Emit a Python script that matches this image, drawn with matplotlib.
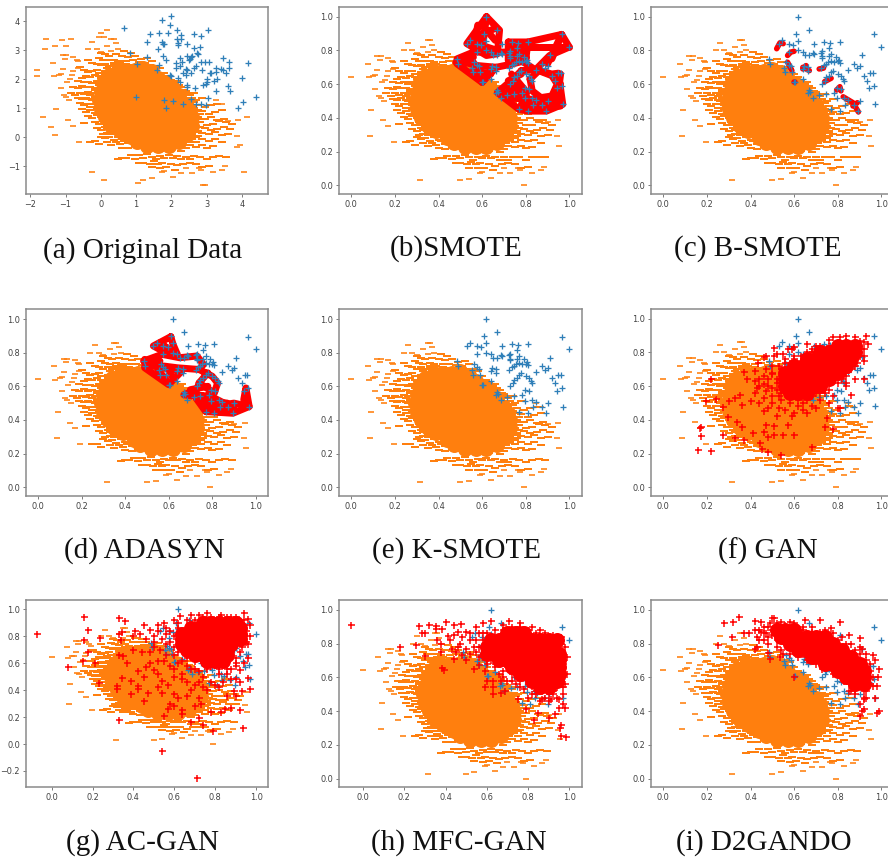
import matplotlib
matplotlib.use("Agg")
import matplotlib.pyplot as plt
import numpy as np

W, H = 888, 859
ORANGE = "#ff7f0e"; BLUE = "#2f7fb8"; RED = "#ff0000"

blue_a = [(0.65,3.77),(0.83,2.92),(1.0,1.38),(1.03,2.52),(1.3,3.3),(1.3,2.75),(1.4,3.55),(1.58,2.3),(1.62,3.05),(1.65,3.58),(1.65,2.5),(1.73,4.05),(1.72,3.3),(1.77,3.2),(1.8,3.22),(1.75,2.8),(1.78,1.28),(1.86,2.65),(1.9,3.6),(1.85,1.0),(1.95,3.88),(2.0,4.18),(1.95,2.15),(2.0,2.12),(2.05,1.25),(2.12,2.55),(2.12,2.4),(2.15,3.7),(2.15,3.38),(2.2,3.25),(2.2,3.18),(2.2,2.05),(2.25,2.72),(2.28,3.52),(2.28,3.38),(2.25,2.45),(2.25,1.9),(2.3,2.6),(2.32,2.2),(2.32,1.15),(2.4,2.35),(2.42,2.15),(2.43,2.8),(2.45,3.2),(2.45,2.3),(2.45,1.8),(2.45,1.72),(2.5,2.65),(2.52,2.7),(2.55,2.75),(2.58,2.8),(2.55,2.2),(2.55,1.3),(2.63,3.07),(2.63,2.4),(2.65,3.55),(2.68,1.7),(2.7,2.45),(2.72,2.9),(2.7,1.15),(2.76,2.88),(2.8,3.12),(2.83,3.48),(2.85,1.15),(2.85,2.6),(2.88,2.32),(2.9,1.8),(2.95,2.6),(2.97,1.1),(2.97,1.85),(3.0,1.9),(3.02,2.0),(3.05,3.7),(3.07,2.6),(3.05,1.35),(3.08,2.22),(3.13,2.2),(3.22,1.95),(3.25,1.58),(3.25,2.38),(3.25,2.25),(3.3,2.02),(3.4,2.35),(3.45,2.72),(3.47,2.3),(3.55,2.2),(3.6,1.75),(3.63,2.58),(3.63,2.4),(3.67,1.58),(3.88,1.0),(4.0,2.05),(4.03,1.2),(4.17,2.55),(4.4,1.38)]

blue_norm = [(0.62,1.0),(0.67,0.92),(0.61,0.90),(0.965,0.895),(1.0,0.82),(0.545,0.86),(0.53,0.84),(0.575,0.84),(0.595,0.835),(0.62,0.855),(0.69,0.84),(0.735,0.85),(0.765,0.845),(0.81,0.85),(0.76,0.815),(0.575,0.79),(0.62,0.80),(0.64,0.79),(0.65,0.77),(0.67,0.77),(0.69,0.78),(0.685,0.785),(0.725,0.785),(0.73,0.795),(0.73,0.765),(0.73,0.755),(0.76,0.765),(0.77,0.78),(0.79,0.76),(0.77,0.74),(0.785,0.73),(0.80,0.735),(0.805,0.745),(0.81,0.725),(0.91,0.77),(0.875,0.72),(0.90,0.71),(0.89,0.695),(0.845,0.685),(0.755,0.73),(0.745,0.72),(0.735,0.715),(0.725,0.695),(0.485,0.75),(0.49,0.72),(0.555,0.695),(0.565,0.73),(0.575,0.715),(0.585,0.705),(0.56,0.67),(0.59,0.67),(0.645,0.71),(0.64,0.69),(0.665,0.70),(0.665,0.68),(0.64,0.63),(0.60,0.61),(0.605,0.61),(0.78,0.68),(0.77,0.67),(0.76,0.65),(0.745,0.64),(0.74,0.62),(0.73,0.60),(0.80,0.66),(0.815,0.65),(0.825,0.63),(0.83,0.62),(0.92,0.65),(0.935,0.62),(0.95,0.665),(0.96,0.665),(0.945,0.575),(0.965,0.59),(0.97,0.48),(0.67,0.565),(0.675,0.555),(0.665,0.55),(0.685,0.52),(0.715,0.535),(0.745,0.54),(0.785,0.55),(0.795,0.58),(0.815,0.57),(0.795,0.515),(0.83,0.52),(0.845,0.505),(0.835,0.475),(0.875,0.475),(0.90,0.50),(0.895,0.44),(0.77,0.45),(0.81,0.44)]

orange_sparse = [(0.0,0.645),(0.075,0.72),(0.08,0.64),(0.10,0.65),(0.11,0.655),(0.09,0.445),(0.085,0.295),(0.12,0.765),(0.135,0.765),(0.13,0.745),(0.17,0.755),(0.185,0.74),(0.19,0.73),(0.19,0.69),(0.17,0.675),(0.165,0.65),(0.12,0.685),(0.11,0.57),(0.14,0.61),(0.155,0.625),(0.135,0.52),(0.125,0.53),(0.15,0.50),(0.145,0.385),(0.17,0.35),(0.195,0.255),(0.315,0.03),(0.50,0.03),(0.54,0.04),(0.64,0.045),(0.79,0.0),(0.60,0.08),(0.59,0.075),(0.68,0.07),(0.73,0.07),(0.83,0.075),(0.87,0.09),(0.885,0.11),(0.775,0.09),(0.765,0.10),(0.70,0.10),(0.26,0.845),(0.24,0.80),(0.28,0.80),(0.35,0.86),(0.36,0.86),(0.33,0.82),(0.37,0.835),(0.30,0.785),(0.35,0.79),(0.38,0.80),(0.405,0.79),(0.95,0.385),(0.945,0.29),(0.955,0.235),(0.895,0.37),(0.90,0.375),(0.845,0.50),(0.87,0.475)]

orange_band = [(.41,.79),(.44,.78),(.30,.78),(.32,.77),(.34,.76),(.37,.77),(.40,.76),(.43,.755),(.46,.76),(.49,.745),(.52,.75),(.29,.75),(.31,.74),(.33,.735),(.36,.74),(.38,.73),(.42,.73),(.45,.735),(.48,.725),(.51,.72),(.54,.73),(.24,.74),(.26,.72),(.28,.715),(.30,.705),(.32,.715),(.34,.70),(.36,.71),(.50,.70),(.53,.705),(.56,.70),(.58,.69),
(.20,.695),(.22,.68),(.24,.665),(.26,.675),(.28,.68),(.30,.66),(.32,.67),(.34,.665),(.23,.645),(.25,.635),(.27,.65),(.29,.64),(.31,.635),(.21,.63),(.19,.615),(.22,.605),(.24,.61),(.26,.60),(.28,.615),(.54,.66),(.56,.665),(.58,.65),(.60,.66),(.62,.64),(.55,.635),(.59,.62),(.62,.61),(.64,.60),(.66,.615),
(.17,.58),(.19,.57),(.21,.585),(.23,.575),(.25,.58),(.27,.57),(.29,.59),(.16,.545),(.18,.53),(.20,.545),(.22,.535),(.24,.55),(.26,.54),(.28,.545),(.19,.51),(.21,.505),(.23,.515),(.25,.505),(.27,.50),(.29,.51),(.66,.575),(.68,.58),(.64,.565),(.70,.555),(.68,.535),(.72,.53),(.74,.54),(.70,.51),(.72,.495),(.75,.50),(.78,.51),
(.20,.485),(.22,.47),(.24,.48),(.26,.46),(.28,.475),(.30,.455),(.21,.445),(.23,.43),(.25,.44),(.27,.425),(.29,.435),(.24,.405),(.26,.395),(.28,.41),(.30,.40),(.32,.39),(.72,.47),(.74,.455),(.76,.47),(.79,.46),(.82,.47),(.85,.48),(.73,.43),(.75,.42),(.78,.435),(.81,.42),(.84,.43),(.87,.44),(.76,.40),(.79,.39),(.82,.40),(.85,.385),(.88,.39),
(.22,.365),(.27,.37),(.29,.36),(.31,.375),(.33,.355),(.28,.335),(.30,.325),(.32,.34),(.34,.33),(.36,.345),(.31,.30),(.33,.305),(.35,.31),(.37,.30),(.39,.32),(.73,.365),(.75,.35),(.77,.37),(.80,.355),(.83,.36),(.86,.375),(.89,.37),(.92,.36),(.74,.33),(.76,.32),(.79,.335),(.82,.325),(.85,.33),(.88,.34),(.91,.33),(.73,.30),(.76,.29),(.78,.305),(.81,.30),(.84,.31),(.87,.295),(.90,.30),
(.25,.255),(.27,.26),(.29,.24),(.30,.285),(.32,.275),(.34,.28),(.36,.265),(.38,.285),(.40,.27),(.42,.285),(.33,.25),(.35,.235),(.37,.25),(.39,.24),(.41,.26),(.43,.245),(.45,.265),(.47,.25),(.40,.22),(.43,.215),(.46,.23),(.48,.215),(.70,.265),(.73,.27),(.75,.255),(.78,.27),(.81,.26),(.84,.27),(.87,.25),(.72,.235),(.75,.225),(.78,.235),(.80,.22),(.83,.23),(.70,.215),(.50,.22),(.52,.205),(.55,.215),(.58,.20),(.60,.215),(.63,.205),(.66,.215),(.68,.20),
(.38,.155),(.40,.16),(.42,.16),(.44,.175),(.46,.155),(.48,.175),(.50,.16),(.52,.18),(.54,.165),(.56,.15),(.58,.17),(.60,.16),(.62,.175),(.64,.16),(.66,.17),(.68,.15),(.70,.165),(.72,.15),(.74,.17),(.77,.165),(.80,.15),(.83,.165),(.86,.17),(.89,.165),(.48,.13),(.50,.13),(.53,.125),(.55,.14),(.57,.125),(.59,.13),(.61,.105),(.63,.125),(.66,.115),(.69,.125),(.72,.13),(.75,.125),(.78,.105),(.81,.11),(.54,.105),(.58,.10),(.65,.09),
(.36,.72),(.39,.72),(.42,.715),(.45,.71),(.48,.70),(.51,.685),(.54,.68),(.33,.69),(.35,.685),(.38,.70),(.57,.66),(.59,.64),(.61,.63),(.63,.62),(.65,.60),(.67,.59),(.69,.56),(.71,.54),(.73,.51),(.74,.49),(.76,.44),(.77,.42),(.77,.39),(.77,.34),(.76,.31),(.75,.28),(.72,.27),(.71,.25),(.68,.24),(.65,.22),(.62,.21),(.58,.21),(.55,.21),(.52,.22),(.49,.235),(.46,.245),(.44,.26),(.41,.29),(.38,.30),(.36,.32),(.34,.36),(.31,.38),(.30,.42),(.28,.45),(.27,.48),(.27,.52),(.27,.56),(.28,.60),(.30,.63),(.32,.65),(.26,.50),(.25,.53),(.25,.46),(.29,.66),(.33,.67),(.35,.30),(.33,.33)]

orange_core = [(.42,.68),(.46,.68),(.38,.68),(.34,.65),(.50,.69),(.54,.67),
(.36,.63),(.40,.63),(.44,.63),(.48,.63),(.52,.63),(.57,.63),(.31,.60),
(.34,.58),(.38,.58),(.42,.58),(.46,.58),(.50,.58),(.54,.58),(.58,.58),(.61,.60),
(.30,.55),(.33,.53),(.37,.53),(.41,.53),(.45,.53),(.49,.53),(.53,.53),(.57,.53),(.61,.53),(.64,.56),(.67,.53),
(.29,.50),(.34,.48),(.38,.48),(.42,.48),(.46,.48),(.50,.48),(.54,.48),(.58,.48),(.62,.48),(.66,.48),(.70,.48),
(.30,.45),(.35,.43),(.39,.43),(.43,.43),(.47,.43),(.51,.43),(.55,.43),(.59,.43),(.63,.43),(.68,.43),(.72,.44),
(.32,.40),(.38,.38),(.42,.38),(.46,.38),(.50,.38),(.54,.38),(.58,.38),(.62,.38),(.66,.38),(.70,.38),(.73,.40),
(.35,.35),(.39,.32),(.43,.33),(.47,.33),(.51,.33),(.55,.33),(.59,.33),(.63,.33),(.69,.33),(.73,.35),
(.44,.28),(.50,.28),(.54,.28),(.58,.28),(.62,.28),(.66,.28),(.71,.30),
(.47,.25),(.52,.23),(.57,.23),(.62,.23),(.67,.25)]

orange_extra_a = [(0.16,3.7),(0.0,3.6),(-0.05,3.45),(0.1,3.45),(-1.55,3.4),(-1.58,3.05),(-1.3,3.15),(-1.0,3.15),(-0.85,3.4),(-1.1,3.35),(4.15,0.7),(4.05,-1.2),(3.85,-0.35),(-1.65,0.7),(-1.4,0.35),(-0.25,-1.2),(2.9,-1.65),(1.05,-1.6),(-1.8,2.33)]

smote_paths = [[(.62,1.0),(.53,.84),(.62,.77),(.67,.78),(.68,.92),(.62,1.0)],[(.62,1.0),(.60,.80),(.56,.84),(.60,.90),(.66,.93)],[(.58,.95),(.56,.80)],[(.66,.86),(.60,.95)],[(.55,.85),(.67,.80)],[(.72,.85),(.81,.85),(.80,.74),(.72,.74),(.72,.85)],[(.74,.82),(.78,.82),(.78,.76),(.74,.76)],[(.72,.80),(.80,.80)],[(.72,.76),(.80,.76)],[(.485,.75),(.56,.79),(.72,.79)],[(.48,.73),(.56,.76)],[(.485,.72),(.60,.61),(.665,.70),(.58,.71),(.485,.74)],[(.56,.68),(.64,.66)],[(.56,.73),(.60,.61)],[(.665,.70),(.74,.72),(.80,.74)],[(.81,.85),(.965,.895),(1.0,.82),(.91,.77),(.845,.685),(.79,.73)],[(.81,.82),(1.0,.82)],[(.965,.895),(.90,.72)],[(.965,.895),(.92,.75)],[(.78,.68),(.845,.685),(.92,.66),(.95,.665),(.97,.48),(.895,.44),(.81,.44),(.77,.45),(.67,.55),(.75,.64),(.78,.68)],[(.82,.63),(.83,.56),(.87,.52),(.92,.53),(.945,.60),(.92,.65),(.86,.68),(.82,.63)],[(.72,.60),(.80,.50),(.90,.47)],[(.70,.55),(.80,.55)],[(.75,.52),(.85,.49)],[(.78,.48),(.88,.46)],[(.96,.60),(.93,.50)],[(.72,.62),(.78,.66)],[(.735,.66),(.80,.56)],[(.70,.52),(.95,.50)],[(.78,.46),(.96,.47)],[(.75,.60),(.82,.50)],[(.72,.58),(.78,.56)],[(.945,.50),(.96,.66)]]

bsmote_paths = [[(.52,.81),(.535,.845),(.55,.84)],[(.57,.77),(.585,.79),(.60,.795)],[(.57,.73),(.59,.68)],[(.64,.70),(.67,.68)],[(.64,.69),(.655,.71)],[(.60,.61),(.605,.61)],[(.715,.69),(.735,.695)],[(.74,.615),(.77,.635)],[(.795,.565),(.81,.585),(.815,.56)],[(.825,.525),(.87,.49),(.895,.435)],[(.87,.47),(.89,.49)]]

adasyn_paths = [[(.61,.895),(.53,.84),(.60,.79),(.64,.79),(.62,.85),(.61,.895)],[(.58,.84),(.62,.80)],[(.56,.86),(.60,.82)],[(.485,.75),(.57,.79),(.65,.77),(.73,.78),(.76,.73),(.74,.70),(.64,.71),(.58,.72),(.49,.72)],[(.49,.74),(.56,.75)],[(.49,.76),(.56,.73)],[(.49,.71),(.60,.61),(.66,.69),(.58,.71)],[(.55,.70),(.60,.62)],[(.60,.70),(.62,.65)],[(.74,.70),(.80,.66),(.825,.62),(.81,.56),(.74,.62),(.78,.68)],[(.74,.62),(.73,.58),(.67,.55),(.72,.54),(.77,.45),(.895,.44),(.97,.48),(.955,.59),(.945,.52)],[(.78,.55),(.90,.47)],[(.74,.52),(.87,.50)],[(.80,.48),(.90,.50),(.97,.48)],[(.70,.58),(.78,.60)],[(.78,.46),(.90,.45)],[(.76,.50),(.84,.50)],[(.70,.55),(.76,.55)]]

gan_plus = [(.16,.22),(.22,.215),(.175,.305),(.175,.355),(.17,.35),(.195,.51),(.24,.525),(.22,.645),(.275,.31),(.275,.475),(.295,.415),(.30,.51),(.33,.295),(.34,.39),(.33,.53),(.35,.55),(.37,.685),(.385,.64),(.36,.36),(.36,.49),(.37,.28),(.41,.32),(.40,.51),(.42,.63),(.43,.59),(.445,.265),(.455,.225),(.48,.21),(.54,.19),(.46,.33),(.47,.37),(.46,.45),(.48,.30),(.51,.31),(.51,.365),(.52,.42),(.50,.50),(.53,.47),(.55,.31),(.57,.37),(.60,.31),(.59,.42),(.68,.24),(.74,.36),(.75,.41),(.78,.345),(.80,.47),(.81,.47),(.86,.55),(.84,.60),(.42,.69),(.435,.735),(.46,.775),(.47,.78),(.52,.79),(.51,.78),(.55,.79),(.57,.82),(.51,.825),(.59,.82),(.60,.835),(.66,.85),(.70,.84),(.76,.875),(.78,.89),(.81,.89),(.84,.90),(.88,.89),(.93,.90),(.92,.86),(.94,.85),(.92,.78),(.92,.75),(.92,.64),(.88,.645),(.84,.62),(.47,.70),(.44,.64),(.46,.61),(.47,.57),(.50,.67),(.52,.62),(.50,.59),(.53,.54),(.56,.56),(.58,.50),(.62,.48),(.66,.44),(.66,.52),(.70,.47),(.72,.52),(.60,.66),(.56,.70),(.53,.72),(.56,.74),(.60,.76),(.63,.78),(.68,.80),(.72,.82),(.78,.84),(.84,.87),(.90,.87),(.90,.82),(.89,.74),(.86,.70),(.84,.66),(.80,.62),(.76,.58),(.72,.56),(.78,.54),(.73,.60),
(.72,.84),(.76,.84),(.66,.80),(.68,.82),(.92,.82),(.56,.76),(.60,.78),(.90,.78),(.50,.72),(.54,.70),(.58,.74),(.88,.72),(.50,.68),(.54,.66),(.48,.64),(.52,.64),(.48,.60),(.52,.58),(.54,.62),(.50,.54),(.54,.56),(.70,.56),(.54,.52),(.58,.54),(.62,.52),(.64,.50),(.68,.54),(.74,.56),(.82,.64),(.84,.68),(.88,.76),(.46,.66),(.44,.60),(.42,.56),(.46,.53),(.44,.50),(.48,.47),(.56,.46),(.60,.44),(.64,.46),(.68,.48),(.76,.50)]
gan_core = [(.80,.84),(.84,.84),(.88,.84),(.72,.80),(.76,.80),(.80,.80),(.84,.80),(.88,.80),(.66,.76),(.70,.76),(.74,.76),(.78,.76),(.82,.76),(.86,.76),(.60,.72),(.64,.72),(.68,.72),(.72,.72),(.76,.72),(.80,.72),(.84,.72),(.56,.68),(.60,.68),(.64,.68),(.68,.68),(.72,.68),(.76,.68),(.80,.68),(.56,.64),(.60,.64),(.64,.64),(.68,.64),(.72,.64),(.76,.64),(.56,.60),(.60,.60),(.64,.60),(.68,.60),(.72,.60),(.58,.56),(.62,.56),(.66,.56)]

acgan_plus = [(-.07,.82),(.16,.94),(.18,.85),(.16,.77),(.235,.79),(.08,.57),(.155,.615),(.18,.68),(.21,.60),(.23,.45),(.33,.935),(.36,.915),(.33,.82),(.345,.83),(.34,.77),(.33,.66),(.35,.65),(.37,.60),(.345,.49),(.32,.43),(.32,.41),(.39,.37),(.39,.47),(.42,.54),(.42,.43),(.42,.41),(.45,.32),(.45,.50),(.47,.38),(.33,.18),(.54,-.05),(.71,-.25),(.79,.10),(.935,.12),(.68,.16),(.74,.14),(.72,.19),(.55,.21),(.64,.22),(.64,.25),(.58,.30),(.60,.28),(.57,.26),(.70,.28),(.73,.30),(.78,.24),(.83,.24),(.85,.26),(.88,.27),(.92,.25),(.86,.36),(.90,.36),(.93,.39),(.97,.41),(.96,.49),(.89,.39),(.82,.42),(.76,.40),(.72,.34),(.66,.36),(.62,.34),(.60,.37),(.57,.44),(.54,.38),(.54,.47),(.52,.42),(.52,.52),(.50,.55),(.48,.60),(.46,.57),(.44,.68),(.40,.70),(.43,.82),(.45,.88),(.46,.78),(.40,.80),(.41,.84),(.52,.88),(.55,.90),(.60,.92),(.63,.95),(.68,.96),(.72,.96),(.76,.97),(.83,.96),(.88,.94),(.94,.97),(.96,.93),(.97,.88),(.97,.80),(.96,.74),(.96,.64),(.94,.60),(.92,.55),(.90,.48),(.50,.76),(.53,.70),(.50,.80),(.56,.82),(.55,.62),(.58,.58),(.60,.66),(.60,.50),(.64,.52),(.66,.46),(.70,.44),(.74,.50),(.78,.46),(.82,.52),(.62,.86),(.64,.62),(.68,.56),(.72,.54),(.76,.56),(.86,.56),(.90,.58),
(.62,.90),(.66,.92),(.70,.92),(.74,.94),(.78,.94),(.82,.94),(.86,.94),(.90,.94),(.94,.92),(.94,.88),(.95,.84),(.94,.80),(.95,.76),(.93,.72),(.92,.68),(.90,.64),(.90,.60),(.88,.56),(.86,.52),(.82,.56),(.78,.58),(.74,.60),(.70,.62),(.66,.64),(.62,.68),(.60,.72),(.58,.76),(.60,.80),(.58,.84),(.56,.86),(.52,.84),(.48,.85),(.50,.72),(.48,.68),(.52,.62),(.56,.66),(.56,.74),(.54,.78),(.62,.60),(.66,.58),(.60,.56),(.70,.56),(.64,.48),(.72,.46),(.80,.44),(.84,.46),(.88,.48),(.92,.46),(.68,.40),(.74,.42)]
acgan_core = [(.74,.90),(.78,.90),(.82,.90),(.86,.90),(.90,.90),(.68,.86),(.72,.86),(.76,.86),(.80,.86),(.84,.86),(.88,.86),(.92,.86),(.64,.82),(.68,.82),(.72,.82),(.76,.82),(.80,.82),(.84,.82),(.88,.82),(.92,.82),(.64,.78),(.68,.78),(.72,.78),(.76,.78),(.80,.78),(.84,.78),(.88,.78),(.92,.78),(.64,.74),(.68,.74),(.72,.74),(.76,.74),(.80,.74),(.84,.74),(.88,.74),(.66,.70),(.70,.70),(.74,.70),(.78,.70),(.82,.70),(.86,.70),(.70,.66),(.74,.66),(.78,.66),(.82,.66),(.86,.66),(.76,.62),(.80,.62),(.84,.62)]

mfcgan_plus = [(-.06,.91),(.18,.78),(.27,.905),(.285,.865),(.30,.865),(.255,.79),(.30,.725),(.32,.91),(.355,.905),(.355,.885),(.40,.93),(.385,.885),(.44,.91),(.475,.915),(.36,.82),(.38,.80),(.38,.75),(.385,.655),(.395,.645),(.41,.845),(.42,.82),(.44,.85),(.46,.87),(.43,.77),(.45,.75),(.44,.71),(.48,.73),(.50,.70),(.54,.65),(.56,.67),(.59,.64),(.60,.58),(.59,.54),(.63,.58),(.63,.54),(.63,.50),(.67,.58),(.67,.51),(.69,.52),(.75,.47),(.79,.41),(.83,.35),(.85,.39),(.87,.47),(.90,.36),(.91,.47),(.95,.42),(.93,.38),(.955,.30),(.96,.32),(.96,.25),(.985,.245),(.98,.42),(.97,.44),(.95,.47),(.97,.50),(.98,.56),(.99,.62),(.99,.72),(.98,.78),(.96,.84),(.92,.85),(.62,.935),(.71,.935),(.76,.92),(.82,.90),(.68,.91),(.58,.92),(.55,.90),(.50,.87),(.52,.82),(.47,.80),(.50,.77),(.55,.75),(.58,.72),(.60,.70),(.64,.68),(.68,.60),(.72,.58),(.75,.62),(.78,.53),(.82,.55),(.84,.50),(.87,.52),(.90,.50),(.92,.52),(.96,.56),(.55,.82),(.58,.86),(.86,.88),(.88,.86),(.70,.66),(.74,.56),(.80,.48),
(.60,.86),(.64,.88),(.68,.88),(.72,.90),(.76,.90),(.80,.88),(.84,.86),(.88,.85),(.92,.84),(.96,.80),(.97,.74),(.97,.68),(.97,.62),(.96,.58),(.94,.54),(.92,.50),(.88,.48),(.84,.52),(.80,.56),(.76,.58),(.72,.62),(.68,.64),(.64,.66),(.60,.68),(.56,.72),(.54,.78),(.52,.86),(.56,.86),(.48,.84),(.46,.78),(.52,.74),(.56,.78),(.58,.82),(.62,.70),(.66,.62),(.70,.58),(.76,.54),(.82,.50),(.86,.46),(.90,.46),(.94,.48),(.97,.54)]
mfcgan_core = [(.70,.86),(.74,.86),(.78,.86),(.62,.82),(.66,.82),(.70,.82),(.74,.82),(.78,.82),(.82,.82),(.86,.82),(.90,.82),(.94,.82),(.60,.78),(.64,.78),(.68,.78),(.72,.78),(.76,.78),(.80,.78),(.84,.78),(.88,.78),(.92,.78),(.60,.74),(.64,.74),(.68,.74),(.72,.74),(.76,.74),(.80,.74),(.84,.74),(.88,.74),(.92,.74),(.95,.74),(.66,.70),(.70,.70),(.74,.70),(.78,.70),(.82,.70),(.86,.70),(.90,.70),(.95,.70),(.72,.66),(.76,.66),(.80,.66),(.84,.66),(.88,.66),(.92,.66),(.95,.66),(.76,.62),(.80,.62),(.84,.62),(.88,.62),(.92,.62),(.95,.62),(.82,.58),(.86,.58),(.90,.58),(.94,.58),(.86,.54),(.90,.54)]

d2gando_plus = [(.28,.92),(.32,.925),(.345,.955),(.315,.84),(.25,.79),(.37,.86),(.395,.865),(.42,.935),(.45,.93),(.46,.90),(.42,.88),(.43,.84),(.45,.87),(.42,.77),(.43,.78),(.48,.745),(.49,.71),(.535,.72),(.60,.60),(.50,.95),(.51,.95),(.49,.92),(.54,.93),(.58,.925),(.65,.94),(.72,.94),(.77,.89),(.81,.93),(.85,.85),(.90,.83),(.91,.77),(.96,.73),(.97,.70),(.99,.65),(.985,.60),(.98,.55),(.97,.475),(.93,.475),(.92,.47),(.90,.44),(.91,.40),(.90,.37),(.92,.41),(.98,.39),(.99,.40),(.95,.60),(.88,.50),(.85,.52),(.83,.58),(.78,.62),(.73,.65),(.70,.68),(.66,.70),(.62,.74),(.58,.78),(.55,.74),(.52,.78),(.48,.80),(.46,.82),(.44,.82),(.47,.86),(.50,.88),(.55,.90),(.60,.89),(.64,.90),(.68,.90),(.74,.88),(.78,.86),(.82,.84),(.86,.80),(.90,.78),(.93,.74),(.95,.68),(.96,.55),(.93,.52),(.90,.55),(.87,.58),(.82,.62),
(.48,.90),(.52,.92),(.56,.91),(.60,.92),(.64,.88),(.68,.87),(.72,.87),(.76,.84),(.80,.82),(.84,.80),(.88,.76),(.90,.74),(.93,.70),(.95,.64),(.96,.60),(.95,.56),(.92,.52),(.88,.53),(.85,.56),(.82,.60),(.78,.64),(.74,.66),(.70,.70),(.66,.72),(.62,.72),(.60,.76),(.56,.80),(.52,.82),(.50,.85),(.46,.86),(.44,.88),(.48,.84),(.54,.76),(.58,.74),(.64,.74),(.90,.62),(.86,.62),(.92,.58),(.86,.52),(.92,.48)]
d2gando_core = [(.52,.88),(.56,.88),(.60,.88),(.54,.84),(.58,.84),(.62,.84),(.66,.84),(.70,.84),(.74,.84),(.58,.80),(.62,.80),(.66,.80),(.70,.80),(.74,.80),(.78,.80),(.62,.76),(.66,.76),(.70,.76),(.74,.76),(.78,.76),(.82,.76),(.68,.72),(.72,.72),(.76,.72),(.80,.72),(.84,.72),(.86,.72),(.74,.68),(.78,.68),(.82,.68),(.86,.68),(.90,.68),(.80,.64),(.84,.64),(.88,.64),(.92,.64),(.84,.60),(.88,.60),(.92,.60),(.88,.56),(.92,.56)]

captions = ["(a) Original Data","(b)SMOTE","(c) B-SMOTE","(d) ADASYN","(e) K-SMOTE","(f) GAN","(g) AC-GAN","(h) MFC-GAN","(i) D2GANDO"]
norm_ticks = [0.0,0.2,0.4,0.6,0.8,1.0]

panels = {
 "a": dict(box=(26,268,7,194), xa=(-2,30.3,4,242), ya=(4,21.3,-1,166), xt=[-2,-1,0,1,2,3,4], yt=[-1,0,1,2,3,4], cap=(143,251)),
 "b": dict(box=(339,582,7,194), xa=(0,351.3,1,569.3), ya=(1,16.7,0,185.3), xt=norm_ticks, yt=norm_ticks, cap=(456,249)),
 "c": dict(box=(651,894,7,194), xa=(0,663.3,1,881.3), ya=(1,16.7,0,185.3), xt=norm_ticks, yt=norm_ticks, cap=(758,249)),
 "d": dict(box=(26,268,309,496), xa=(0,38,1,255.7), ya=(1,319,0,487.3), xt=norm_ticks, yt=norm_ticks, cap=(144,551)),
 "e": dict(box=(339,582,309,496), xa=(0,351.3,1,569.3), ya=(1,319,0,487.3), xt=norm_ticks, yt=norm_ticks, cap=(456,551)),
 "f": dict(box=(651,894,309,496), xa=(0,663.3,1,881.3), ya=(1,318.7,0,487.3), xt=norm_ticks, yt=norm_ticks, cap=(768,551)),
 "g": dict(box=(26,268,600,787), xa=(0,51.7,1,256), ya=(1,609.3,-0.2,771), xt=norm_ticks, yt=[-0.2]+norm_ticks, cap=(143,843)),
 "h": dict(box=(339,582,600,787), xa=(0,363,1,569.3), ya=(1,609.7,0,778.7), xt=norm_ticks, yt=norm_ticks, cap=(459,843)),
 "i": dict(box=(651,894,600,787), xa=(0,663.3,1,881.3), ya=(1,609.7,0,778.7), xt=norm_ticks, yt=norm_ticks, cap=(764,843)),
}

dpi = 100
fig = plt.figure(figsize=(W/dpi, H/dpi), dpi=dpi, facecolor="white")
PT = 72/dpi

def xy(pts, sx=1.0, ox=0.0, sy=1.0, oy=0.0):
    a = np.array(pts, float)
    return a[:,0]*sx+ox, a[:,1]*sy+oy

def scatter(ax, pts, marker, color, z, size=6.0, lw=1.3, **tf):
    x, y = xy(pts, **tf)
    ax.scatter(x, y, marker=marker, s=(size*PT)**2, linewidths=lw*PT, color=color, zorder=z)

def discs(ax, pts, color, d, z, **tf):
    x, y = xy(pts, **tf)
    ax.scatter(x, y, marker="o", s=(d*PT)**2, linewidths=0, color=color, zorder=z)

def setup(key, cap):
    p = panels[key]
    L,R,T,B = p["box"]
    ax = fig.add_axes([L/W, 1-B/H, (R-L)/W, (B-T)/H])
    v0,p0,v1,p1 = p["xa"]
    ax.set_xlim(v0+(L-p0)*(v1-v0)/(p1-p0), v0+(R-p0)*(v1-v0)/(p1-p0))
    v0,p0,v1,p1 = p["ya"]
    ax.set_ylim(v0+(B-p0)*(v1-v0)/(p1-p0), v0+(T-p0)*(v1-v0)/(p1-p0))
    ax.set_xticks(p["xt"]); ax.set_yticks(p["yt"])
    if key != "a":
        ax.set_xticklabels([f"{t:.1f}" for t in p["xt"]])
        ax.set_yticklabels([f"{t:.1f}".replace("-", "\u2212") for t in p["yt"]])
    ax.tick_params(labelsize=5.9, length=2.2, width=0.6, color="#666666", labelcolor="#404040", pad=2.2)
    for s in ax.spines.values():
        s.set_color("#8a8a8a"); s.set_linewidth(1.1)
    fig.text(p["cap"][0]/W, 1-p["cap"][1]/H, cap, ha="center", va="center",
             family="Liberation Serif", fontsize=21, color="#111111")
    return ax

def orange(ax, **tf):
    scatter(ax, orange_sparse, "_", ORANGE, 1, size=6.5, lw=1.6, **tf)
    scatter(ax, orange_band, "_", ORANGE, 1, size=7.5, lw=2.0, **tf)
    discs(ax, orange_core, ORANGE, 15, 1, **tf)

keys = list("abcdefghi")
axes = {k: setup(k, c) for k, c in zip(keys, captions)}

tf_a = dict(sx=6.0, ox=-1.8, sy=5.85, oy=-1.65)
orange(axes["a"], **tf_a)
scatter(axes["a"], orange_extra_a, "_", ORANGE, 1, size=6.5, lw=1.6)
scatter(axes["a"], blue_a, "+", BLUE, 3)

for k, paths, lw in (("b", smote_paths, 7.0), ("c", bsmote_paths, 5.5), ("d", adasyn_paths, 7.0)):
    ax = axes[k]
    orange(ax)
    for path in paths:
        x, y = xy(path)
        ax.plot(x, y, color=RED, lw=lw*PT, solid_capstyle="round", zorder=2)
    scatter(ax, blue_norm, "+", BLUE, 3)
orange(axes["e"])
scatter(axes["e"], blue_norm, "+", BLUE, 3)

for k, plus, core in (("f", gan_plus, gan_core), ("g", acgan_plus, acgan_core),
                      ("h", mfcgan_plus, mfcgan_core), ("i", d2gando_plus, d2gando_core)):
    ax = axes[k]
    orange(ax)
    scatter(ax, blue_norm, "+", BLUE, 2)
    discs(ax, core, RED, 15, 3)
    scatter(ax, plus, "+", RED, 3, size=7.0, lw=1.5)

fig.savefig("out.png", dpi=dpi)
